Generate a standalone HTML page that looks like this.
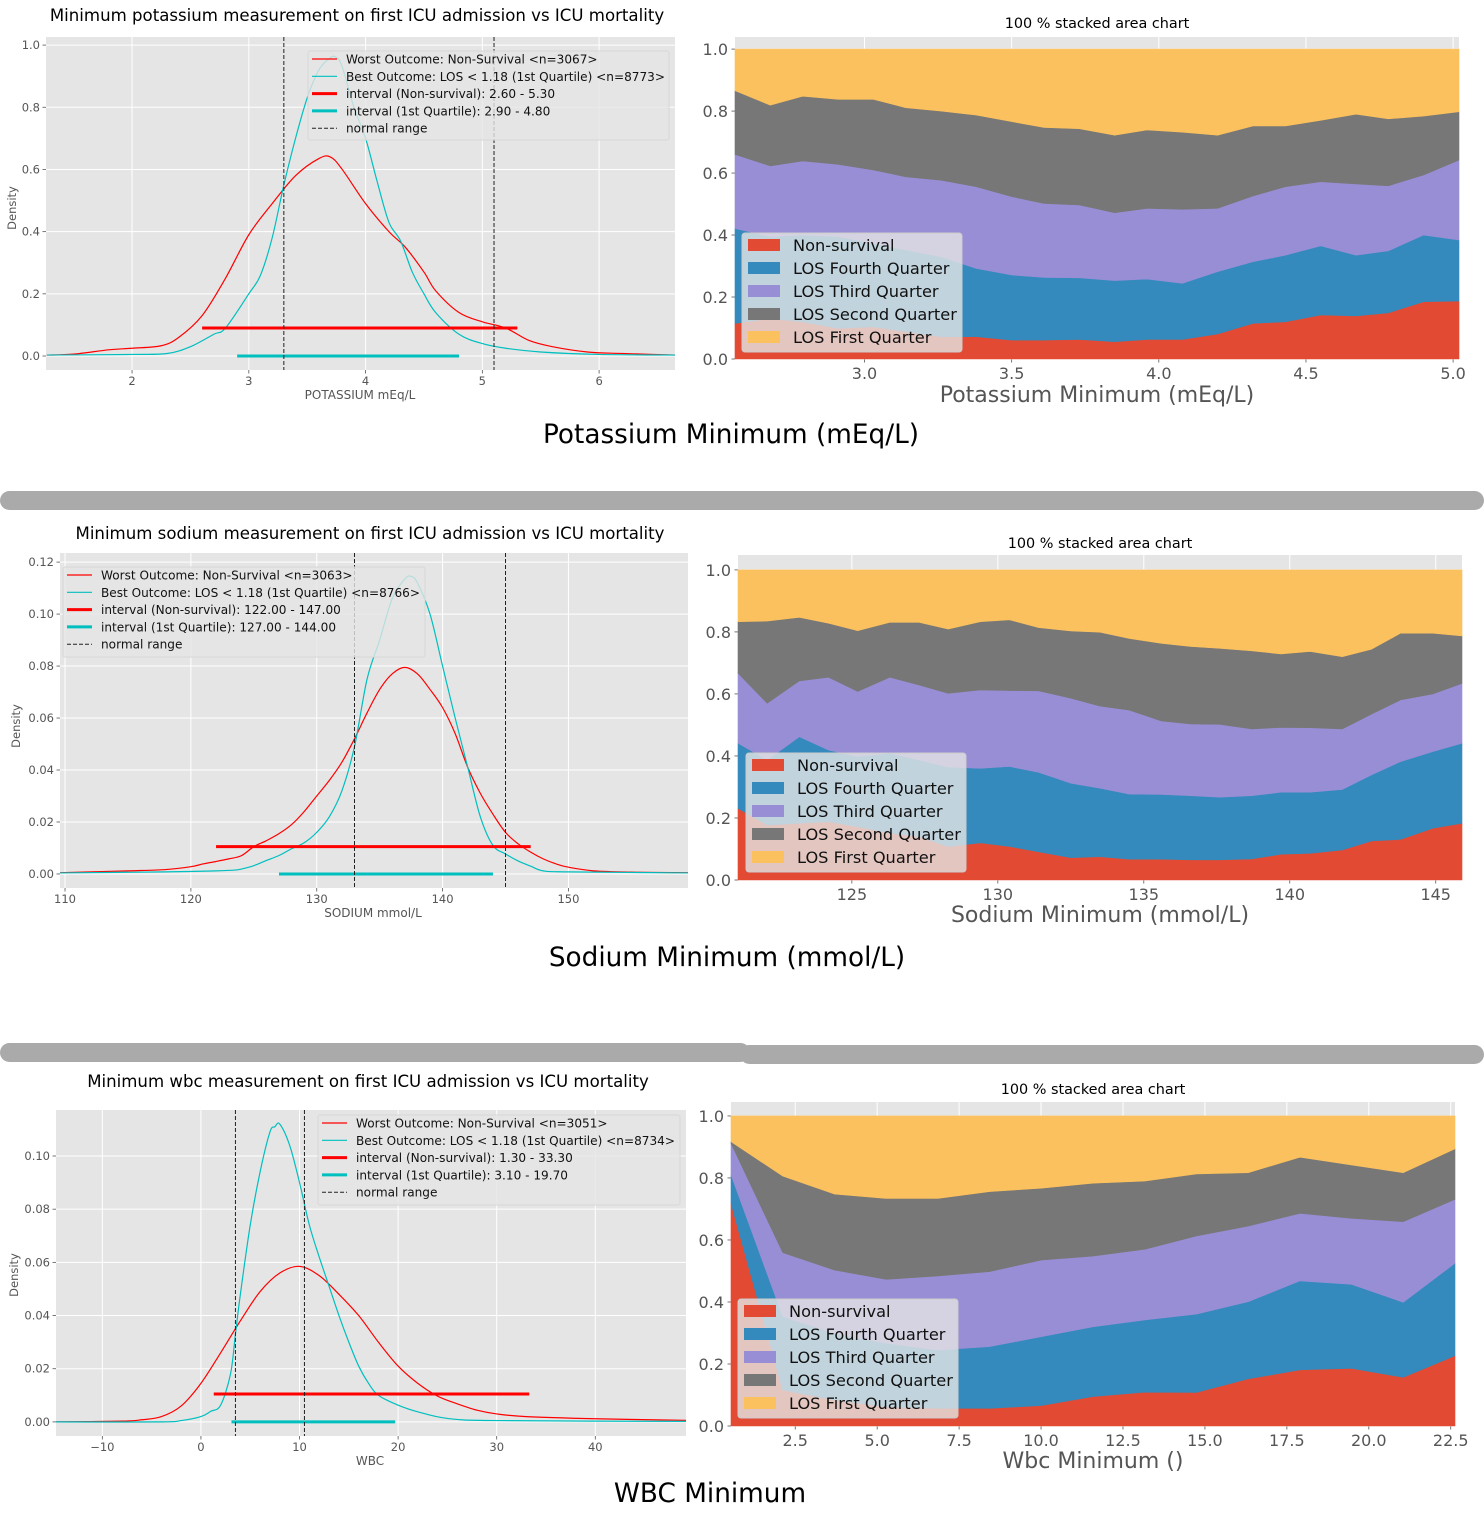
<!DOCTYPE html>
<html><head><meta charset="utf-8"><title>ICU minimum lab measurements</title>
<style>
html,body{margin:0;padding:0;background:#fff;}
svg{display:block;font-family:"DejaVu Sans","Liberation Sans",sans-serif;}
</style></head>
<body>
<svg id="root" width="1484" height="1540" viewBox="0 0 1484 1540" xmlns="http://www.w3.org/2000/svg">
  <rect x="0" y="491" width="1484" height="19" rx="9.5" fill="#aaaaaa"/>
  <rect x="0" y="1043" width="750" height="19" rx="9.5" fill="#aaaaaa"/>
  <rect x="740" y="1045" width="744" height="19" rx="9.5" fill="#aaaaaa"/>

  <text x="357" y="21" font-size="16.6" text-anchor="middle" fill="#000">Minimum potassium measurement on first ICU admission vs ICU mortality</text>
  <text x="370" y="539" font-size="16.6" text-anchor="middle" fill="#000">Minimum sodium measurement on first ICU admission vs ICU mortality</text>
  <text x="368" y="1087" font-size="16.6" text-anchor="middle" fill="#000">Minimum wbc measurement on first ICU admission vs ICU mortality</text>

  <text x="1097" y="28" font-size="14.4" text-anchor="middle" fill="#000">100 % stacked area chart</text>
  <text x="1100" y="548" font-size="14.4" text-anchor="middle" fill="#000">100 % stacked area chart</text>
  <text x="1093" y="1094" font-size="14.4" text-anchor="middle" fill="#000">100 % stacked area chart</text>

  <text x="360" y="399" font-size="12" text-anchor="middle" fill="#555">POTASSIUM mEq/L</text>
  <text x="373" y="917" font-size="12" text-anchor="middle" fill="#555">SODIUM mmol/L</text>
  <text x="370" y="1465" font-size="12" text-anchor="middle" fill="#555">WBC</text>
  <text transform="translate(16,208) rotate(-90)" font-size="11.5" text-anchor="middle" fill="#555">Density</text>
  <text transform="translate(20,726) rotate(-90)" font-size="11.5" text-anchor="middle" fill="#555">Density</text>
  <text transform="translate(18,1275) rotate(-90)" font-size="11.5" text-anchor="middle" fill="#555">Density</text>

  <text x="1097" y="402" font-size="22" text-anchor="middle" fill="#555">Potassium Minimum (mEq/L)</text>
  <text x="1100" y="922" font-size="22" text-anchor="middle" fill="#555">Sodium Minimum (mmol/L)</text>
  <text x="1093" y="1468" font-size="22" text-anchor="middle" fill="#555">Wbc Minimum ()</text>

  <text x="731" y="443" font-size="26.3" text-anchor="middle" fill="#000">Potassium Minimum (mEq/L)</text>
  <text x="727" y="966" font-size="26.3" text-anchor="middle" fill="#000">Sodium Minimum (mmol/L)</text>
  <text x="710" y="1502" font-size="26.3" text-anchor="middle" fill="#000">WBC Minimum</text>
</svg>
<script>
// ---------- Potassium density data ----------
const kRedX = [1.27,1.5,1.8,2.0,2.25,2.4,2.6,2.8,3.0,3.2,3.4,3.6,3.7,3.8,4.0,4.2,4.34,4.5,4.6,4.8,5.0,5.2,5.4,5.6,5.9,6.2,6.65];
const kRedY = [0.003,0.006,0.02,0.025,0.033,0.06,0.13,0.25,0.39,0.49,0.58,0.635,0.64,0.60,0.49,0.40,0.35,0.27,0.21,0.14,0.11,0.09,0.05,0.03,0.013,0.008,0.003];
const kCyanX = [1.27,2.0,2.3,2.5,2.7,2.8,3.0,3.1,3.2,3.3,3.4,3.5,3.6,3.7,3.75,3.8,3.9,4.0,4.1,4.2,4.3,4.4,4.5,4.6,4.8,5.0,5.2,5.5,6.0,6.65];
const kCyanY = [0.003,0.005,0.008,0.03,0.07,0.09,0.20,0.26,0.38,0.55,0.70,0.83,0.92,0.96,0.96,0.93,0.80,0.70,0.56,0.43,0.37,0.27,0.20,0.14,0.07,0.04,0.025,0.013,0.005,0.003];
const kIntervals = [[2.60,5.30],[2.90,4.80]];
const kIntervalY = [0.09,0];
const kNormal = [3.3,5.1];
const kXTicks = [2,3,4,5,6];
const kYTicks = [0.0,0.2,0.4,0.6,0.8,1.0];
const kLegend = ["Worst Outcome: Non-Survival <n=3067>","Best Outcome: LOS < 1.18 (1st Quartile) <n=8773>","interval (Non-survival): 2.60 - 5.30","interval (1st Quartile): 2.90 - 4.80","normal range"];

// ---------- Sodium density data ----------
const nRedX = [109.6,115,118,120,121,122,123,124,125,126,127,128,129,130,131,132,133,134,135,136,137,138,139,140,141,142,143,144,145,146,147,148,149,150,152,155,159.5];
const nRedY = [0.0005,0.0012,0.0017,0.0028,0.0039,0.0048,0.0058,0.007,0.0105,0.0128,0.0155,0.019,0.024,0.030,0.036,0.043,0.052,0.062,0.071,0.077,0.0795,0.077,0.071,0.064,0.054,0.041,0.031,0.023,0.016,0.0116,0.0084,0.0058,0.0039,0.0026,0.0012,0.0007,0.0005];
const nCyanX = [109.6,118,122,123.5,124,125,126,127,128,129,130,131,132,133,134,135,136,137,137.5,138,139,140,141,142,143,144,145,146,147,148,150,159.5];
const nCyanY = [0.0004,0.0008,0.0012,0.0015,0.0019,0.0032,0.0052,0.0071,0.0097,0.012,0.016,0.022,0.032,0.049,0.075,0.090,0.106,0.1135,0.1145,0.112,0.100,0.080,0.060,0.041,0.022,0.011,0.0077,0.005,0.003,0.0012,0.0008,0.0004];
const nIntervals = [[122,147],[127,144]];
const nIntervalY = [0.0105,0];
const nNormal = [133,145];
const nXTicks = [110,120,130,140,150];
const nYTicks = [0.00,0.02,0.04,0.06,0.08,0.10,0.12];
const nLegend = ["Worst Outcome: Non-Survival <n=3063>","Best Outcome: LOS < 1.18 (1st Quartile) <n=8766>","interval (Non-survival): 122.00 - 147.00","interval (1st Quartile): 127.00 - 144.00","normal range"];

// ---------- WBC density data ----------
const wRedX = [-14.7,-8,-6,-4,-2,0,2,4,6,8,10,12,14,16,18,20,22,24,26,28,30,33,40,49.2];
const wRedY = [0.0,0.0003,0.0008,0.002,0.006,0.0145,0.026,0.038,0.049,0.056,0.0585,0.055,0.048,0.040,0.030,0.021,0.0145,0.0097,0.0068,0.0044,0.003,0.002,0.0012,0.0006];
const wCyanX = [-14.7,-4,-2,0,1,2,3,3.5,4,5,6,7,7.5,8,9,10,11,12,13,14,15,16,17,18,20,22,25,30,49.2];
const wCyanY = [0.0,0.0,0.0005,0.002,0.004,0.0063,0.018,0.033,0.048,0.074,0.094,0.109,0.111,0.112,0.104,0.090,0.074,0.062,0.051,0.040,0.030,0.021,0.0145,0.010,0.0063,0.0038,0.0013,0.0005,0.0002];
const wIntervals = [[1.3,33.3],[3.1,19.7]];
const wIntervalY = [0.0105,0];
const wNormal = [3.5,10.5];
const wXTicks = [-10,0,10,20,30,40];
const wYTicks = [0.00,0.02,0.04,0.06,0.08,0.10];
const wLegend = ["Worst Outcome: Non-Survival <n=3051>","Best Outcome: LOS < 1.18 (1st Quartile) <n=8734>","interval (Non-survival): 1.30 - 33.30","interval (1st Quartile): 3.10 - 19.70","normal range"];

// ---------- Potassium stacked data ----------
const ksX = [2.56,2.68,2.79,2.91,3.03,3.14,3.26,3.38,3.5,3.61,3.73,3.85,3.96,4.08,4.2,4.32,4.43,4.55,4.67,4.78,4.9,5.02];
const ksNonSurvival = [.115,.131,.12,.099,.104,.088,.072,.072,.061,.061,.063,.056,.063,.063,.081,.115,.12,.142,.139,.149,.185,.187];
const ksFourth = [.306,.264,.28,.296,.269,.264,.258,.22,.21,.202,.199,.197,.195,.181,.201,.199,.215,.223,.196,.2,.215,.197];
const ksThird = [.239,.228,.239,.233,.237,.236,.247,.264,.253,.239,.235,.219,.228,.239,.204,.212,.221,.207,.23,.21,.194,.258];
const ksSecond = [.206,.196,.209,.21,.228,.223,.223,.231,.242,.245,.246,.25,.253,.249,.236,.226,.196,.198,.225,.216,.19,.156];
const ksFirst = [.134,.181,.152,.162,.162,.189,.2,.213,.234,.253,.257,.278,.261,.268,.278,.248,.248,.23,.21,.225,.216,.202];
const ksXTicks = [3.0,3.5,4.0,4.5,5.0];

// ---------- Sodium stacked data ----------
const nsX = [121.1,122.1,123.2,124.2,125.2,126.3,127.3,128.3,129.4,130.4,131.4,132.5,133.5,134.5,135.6,136.6,137.6,138.7,139.7,140.7,141.8,142.8,143.8,144.9,145.9];
const nsNonSurvival = [.231,.177,.183,.188,.172,.151,.14,.108,.12,.108,.091,.072,.075,.067,.067,.065,.065,.068,.083,.086,.097,.126,.131,.167,.183];
const nsFourth = [.21,.21,.279,.231,.226,.258,.247,.256,.24,.258,.256,.24,.221,.21,.209,.207,.202,.204,.2,.197,.195,.213,.251,.247,.258];
const nsThird = [.226,.183,.18,.235,.21,.245,.242,.238,.253,.245,.263,.274,.265,.271,.237,.231,.235,.215,.209,.208,.195,.196,.199,.186,.193];
const nsSecond = [.166,.265,.205,.174,.196,.177,.202,.207,.22,.228,.204,.217,.238,.231,.25,.25,.245,.252,.237,.246,.233,.209,.215,.196,.153];
const nsFirst = [.167,.165,.153,.172,.196,.169,.169,.191,.167,.161,.186,.197,.201,.221,.237,.247,.253,.261,.271,.263,.28,.256,.204,.204,.213];
const nsXTicks = [125,130,135,140,145];

// ---------- WBC stacked data ----------
const wsX = [0.54,2.12,3.7,5.27,6.85,8.43,10.0,11.58,13.16,14.74,16.32,17.9,19.47,21.05,22.63];
const wsNonSurvival = [.718,.116,.084,.062,.057,.057,.066,.095,.109,.108,.152,.181,.186,.157,.227];
const wsFourth = [.092,.237,.215,.205,.188,.199,.222,.225,.233,.253,.249,.287,.271,.242,.298];
const wsThird = [.102,.206,.204,.206,.239,.242,.247,.228,.228,.252,.244,.218,.213,.26,.206];
const wsSecond = [.005,.247,.245,.261,.25,.258,.232,.235,.22,.2,.172,.181,.172,.158,.163];
const wsFirst = [.083,.194,.252,.266,.266,.244,.233,.217,.21,.187,.183,.133,.158,.183,.106];
const wsXTicks = [2.5,5.0,7.5,10.0,12.5,15.0,17.5,20.0,22.5];

const stackLabels = ["Non-survival","LOS Fourth Quarter","LOS Third Quarter","LOS Second Quarter","LOS First Quarter"];
const stackYTicks = [0.0,0.2,0.4,0.6,0.8,1.0];

const NS = "http://www.w3.org/2000/svg";
const root = document.getElementById('root');

function mk(tag, name, attrs, parent) {
  const el = document.createElementNS(NS, tag);
  for (const k in attrs) el.setAttribute(k, attrs[k]);
  
  
  (parent || root).appendChild(el);
  return el;
}
function txt(name, s, attrs, parent) {
  const t = mk('text', name, attrs, parent);
  t.textContent = s;
  return t;
}
function smoothPath(pts) {
  let d = 'M' + pts[0][0].toFixed(2) + ',' + pts[0][1].toFixed(2);
  for (let i = 0; i < pts.length - 1; i++) {
    const p0 = pts[Math.max(0, i - 1)], p1 = pts[i], p2 = pts[i + 1], p3 = pts[Math.min(pts.length - 1, i + 2)];
    const c1x = p1[0] + (p2[0] - p0[0]) / 6, c1y = p1[1] + (p2[1] - p0[1]) / 6;
    const c2x = p2[0] - (p3[0] - p1[0]) / 6, c2y = p2[1] - (p3[1] - p1[1]) / 6;
    d += ' C' + c1x.toFixed(2) + ',' + c1y.toFixed(2) + ' ' + c2x.toFixed(2) + ',' + c2y.toFixed(2) + ' ' + p2[0].toFixed(2) + ',' + p2[1].toFixed(2);
  }
  return d;
}

function densityChart(id, box, xmin, xmax, ymin, ymax, xTicks, yTicks, yDec, curves, intervals, intervalY, normal, legendText, legendBox) {
  const g = mk('g', id + '-density-chart', {});
  const sx = v => box.l + (v - xmin) / (xmax - xmin) * (box.r - box.l);
  const sy = v => box.b - (v - ymin) / (ymax - ymin) * (box.b - box.t);
  mk('rect', id + '-plot-background', {x: box.l, y: box.t, width: box.r - box.l, height: box.b - box.t, fill: '#e5e5e5'}, g);
  xTicks.forEach(v => {
    mk('line', id + '-x-gridline', {x1: sx(v), x2: sx(v), y1: box.t, y2: box.b, stroke: '#fff', 'stroke-width': 1}, g);
    mk('line', id + '-x-tick', {x1: sx(v), x2: sx(v), y1: box.b, y2: box.b + 3.5, stroke: '#555', 'stroke-width': 0.8}, g);
    txt(id + '-x-tick-label', String(v).replace('-', '\u2212'), {x: sx(v), y: box.b + 15, 'font-size': 11.5, 'text-anchor': 'middle', fill: '#555'}, g);
  });
  yTicks.forEach(v => {
    mk('line', id + '-y-gridline', {x1: box.l, x2: box.r, y1: sy(v), y2: sy(v), stroke: '#fff', 'stroke-width': 1}, g);
    mk('line', id + '-y-tick', {x1: box.l - 3.5, x2: box.l, y1: sy(v), y2: sy(v), stroke: '#555', 'stroke-width': 0.8}, g);
    txt(id + '-y-tick-label', v.toFixed(yDec), {x: box.l - 6, y: sy(v) + 4, 'font-size': 11.5, 'text-anchor': 'end', fill: '#555'}, g);
  });
  const clipId = id + '-clip';
  const defs = mk('defs', id + '-defs', {}, g);
  const cp = mk('clipPath', id + '-clip-path', {id: clipId}, defs);
  mk('rect', id + '-clip-rect', {x: box.l, y: box.t, width: box.r - box.l, height: box.b - box.t}, cp);
  const pg = mk('g', id + '-plot-area', {'clip-path': 'url(#' + clipId + ')'}, g);
  const names = ['non-survival-density-curve', 'best-outcome-density-curve'];
  curves.forEach((c, i) => {
    const pts = c.xs.map((x, j) => [sx(x), sy(c.ys[j])]);
    mk('path', id + '-' + names[i], {d: smoothPath(pts), fill: 'none', stroke: c.color, 'stroke-width': 1.2}, pg);
  });
  const iCol = ['#ff0000', '#00bfbf'];
  const iNames = ['non-survival-interval', 'first-quartile-interval'];
  intervals.forEach((iv, i) => {
    mk('line', id + '-' + iNames[i], {x1: sx(iv[0]), x2: sx(iv[1]), y1: sy(intervalY[i]), y2: sy(intervalY[i]), stroke: iCol[i], 'stroke-width': 3}, pg);
  });
  normal.forEach(v => {
    mk('line', id + '-normal-range-line', {x1: sx(v), x2: sx(v), y1: box.t, y2: box.b, stroke: '#222', 'stroke-width': 1, 'stroke-dasharray': '4,2'}, pg);
  });
  const lg = mk('g', id + '-legend', {}, g);
  mk('rect', id + '-legend-box', {x: legendBox.x, y: legendBox.y, width: legendBox.w, height: legendBox.h, rx: 2, fill: '#e5e5e5', 'fill-opacity': 0.8, stroke: '#d8d8d8', 'stroke-width': 1}, lg);
  const styles = [
    {stroke: '#ff0000', w: 1.2}, {stroke: '#00bfbf', w: 1.2}, {stroke: '#ff0000', w: 3}, {stroke: '#00bfbf', w: 3}, {stroke: '#222', w: 1, dash: '4,2'}
  ];
  legendText.forEach((s, i) => {
    const yy = legendBox.y + 8 + i * 17.3;
    const a = {x1: legendBox.x + 4, x2: legendBox.x + 29, y1: yy, y2: yy, stroke: styles[i].stroke, 'stroke-width': styles[i].w};
    if (styles[i].dash) a['stroke-dasharray'] = styles[i].dash;
    mk('line', id + '-legend-swatch', a, lg);
    txt(id + '-legend-entry', s, {x: legendBox.x + 38, y: yy + 4.5, 'font-size': 12.1, fill: '#111'}, lg);
  });
}

function stackedChart(id, box, xmin, xmax, ymax, xs, series, xTicks, xDec, legendPos) {
  const g = mk('g', id + '-stacked-chart', {});
  const sx = v => box.l + (v - xmin) / (xmax - xmin) * (box.r - box.l);
  const sy = v => box.b - v / ymax * (box.b - box.t);
  mk('rect', id + '-plot-background', {x: box.l, y: box.t, width: box.r - box.l, height: box.b - box.t, fill: '#e5e5e5'}, g);
  xTicks.forEach(v => {
    mk('line', id + '-x-gridline', {x1: sx(v), x2: sx(v), y1: box.t, y2: box.b, stroke: '#fff', 'stroke-width': 1}, g);
    mk('line', id + '-x-tick', {x1: sx(v), x2: sx(v), y1: box.b, y2: box.b + 3.5, stroke: '#555', 'stroke-width': 0.8}, g);
    txt(id + '-x-tick-label', v.toFixed(xDec), {x: sx(v), y: box.b + 20, 'font-size': 16, 'text-anchor': 'middle', fill: '#555'}, g);
  });
  stackYTicks.forEach(v => {
    mk('line', id + '-y-gridline', {x1: box.l, x2: box.r, y1: sy(v), y2: sy(v), stroke: '#fff', 'stroke-width': 1}, g);
    mk('line', id + '-y-tick', {x1: box.l - 3.5, x2: box.l, y1: sy(v), y2: sy(v), stroke: '#555', 'stroke-width': 0.8}, g);
    txt(id + '-y-tick-label', v.toFixed(1), {x: box.l - 7, y: sy(v) + 6, 'font-size': 16, 'text-anchor': 'end', fill: '#555'}, g);
  });
  const colors = ['#E24A33', '#348ABD', '#988ED5', '#777777', '#FBC15E'];
  const names = ['non-survival-area', 'los-fourth-quarter-area', 'los-third-quarter-area', 'los-second-quarter-area', 'los-first-quarter-area'];
  let base = xs.map(() => 0);
  series.forEach((s, k) => {
    const top = base.map((b, i) => b + s[i]);
    let d = xs.map((x, i) => (i ? 'L' : 'M') + sx(x).toFixed(2) + ',' + sy(top[i]).toFixed(2)).join(' ');
    for (let i = xs.length - 1; i >= 0; i--) d += ' L' + sx(xs[i]).toFixed(2) + ',' + sy(base[i]).toFixed(2);
    mk('path', id + '-' + names[k], {d: d + ' Z', fill: colors[k], stroke: colors[k], 'stroke-width': 0.6}, g);
    base = top;
  });
  const lg = mk('g', id + '-legend', {}, g);
  mk('rect', id + '-legend-box', {x: legendPos.x, y: legendPos.y, width: 220, height: 119, rx: 3, fill: '#e5e5e5', 'fill-opacity': 0.8, stroke: '#cccccc', 'stroke-width': 1}, lg);
  stackLabels.forEach((s, i) => {
    const yy = legendPos.y + 12 + i * 23;
    mk('rect', id + '-legend-swatch', {x: legendPos.x + 6, y: yy - 6, width: 32, height: 12, fill: colors[i]}, lg);
    txt(id + '-legend-entry', s, {x: legendPos.x + 51, y: yy + 6, 'font-size': 16.2, fill: '#111'}, lg);
  });
}

densityChart('potassium', {l: 46, t: 37, r: 675, b: 370}, 1.263, 6.65, -0.045, 1.026, kXTicks, kYTicks, 1,
  [{xs: kRedX, ys: kRedY, color: '#ff0000'}, {xs: kCyanX, ys: kCyanY, color: '#00bfbf'}],
  kIntervals, kIntervalY, kNormal, kLegend, {x: 308, y: 51, w: 361, h: 89});
densityChart('sodium', {l: 60, t: 553, r: 688, b: 888}, 109.6, 159.5, -0.0054, 0.1235, nXTicks, nYTicks, 2,
  [{xs: nRedX, ys: nRedY, color: '#ff0000'}, {xs: nCyanX, ys: nCyanY, color: '#00bfbf'}],
  nIntervals, nIntervalY, nNormal, nLegend, {x: 63, y: 567, w: 362, h: 90});
densityChart('wbc', {l: 56, t: 1110, r: 686, b: 1436}, -14.7, 49.2, -0.0053, 0.1173, wXTicks, wYTicks, 2,
  [{xs: wRedX, ys: wRedY, color: '#ff0000'}, {xs: wCyanX, ys: wCyanY, color: '#00bfbf'}],
  wIntervals, wIntervalY, wNormal, wLegend, {x: 318, y: 1115, w: 362, h: 90});

stackedChart('potassium-stacked', {l: 735, t: 37, r: 1459, b: 359}, 2.56, 5.02, 1.039, ksX,
  [ksNonSurvival, ksFourth, ksThird, ksSecond, ksFirst], ksXTicks, 1, {x: 742, y: 233});
stackedChart('sodium-stacked', {l: 738, t: 555, r: 1462, b: 880}, 121.1, 145.9, 1.048, nsX,
  [nsNonSurvival, nsFourth, nsThird, nsSecond, nsFirst], nsXTicks, 0, {x: 746, y: 753});
stackedChart('wbc-stacked', {l: 731, t: 1102, r: 1455, b: 1426}, 0.54, 22.63, 1.045, wsX,
  [wsNonSurvival, wsFourth, wsThird, wsSecond, wsFirst], wsXTicks, 1, {x: 738, y: 1299});
</script>
</body></html>
